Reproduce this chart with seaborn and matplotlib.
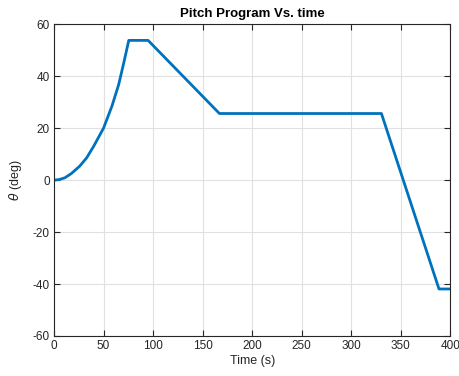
import matplotlib
matplotlib.use("Agg")
import matplotlib.pyplot as plt
import seaborn as sns
import pandas as pd

# Pitch program: time (s) and pitch angle (deg)
time_s = [0, 5, 11, 17.7, 26, 33, 40, 50, 58.5, 65.3, 70.4, 75.5, 95, 167, 330.5, 388.6, 400]
theta_deg = [0, 0.2, 0.9, 2.6, 5.4, 8.6, 13.0, 20.0, 28.5, 36.8, 45.1, 53.8, 53.8, 25.65, 25.65, -41.9, -41.9]

x_ticks = [0, 50, 100, 150, 200, 250, 300, 350, 400]
y_ticks = [-60, -40, -20, 0, 20, 40, 60]

sns.set_theme(style="white")
plt.rcParams["font.family"] = ["Liberation Sans", "DejaVu Sans"]
plt.rcParams["mathtext.fontset"] = "dejavusans"
plt.rcParams["axes.unicode_minus"] = False

df = pd.DataFrame({"Time (s)": time_s, "theta": theta_deg})

fig = plt.figure(figsize=(4.59, 3.76), dpi=100)
ax = fig.add_axes([0.1176, 0.1064, 0.981 - 0.1176, 0.9354 - 0.1064])

sns.lineplot(data=df, x="Time (s)", y="theta", ax=ax, color="#0072BD",
             linewidth=2.0, sort=False, estimator=None)

ax.set_xlim(0, 400)
ax.set_ylim(-60, 60)
ax.set_xticks(x_ticks)
ax.set_yticks(y_ticks)

ax.grid(True, color="#e1e1e1", linewidth=0.8)
ax.set_axisbelow(True)
for s in ax.spines.values():
    s.set_color("#262626")
    s.set_linewidth(0.8)
    s.set_visible(True)

ax.tick_params(direction="in", length=4, width=0.8, colors="#262626",
               labelsize=8.5, top=True, right=True, bottom=True, left=True,
               labelcolor="#262626", pad=3)

ax.set_title("Pitch Program Vs. time", fontsize=9.5, fontweight="bold", color="black", pad=5)
ax.set_xlabel("Time (s)", fontsize=9, color="#262626", labelpad=2)
ax.set_ylabel(r"$\theta$ (deg)", fontsize=9, color="#262626", labelpad=6)

fig.savefig("out.png", dpi=100, facecolor="white")
